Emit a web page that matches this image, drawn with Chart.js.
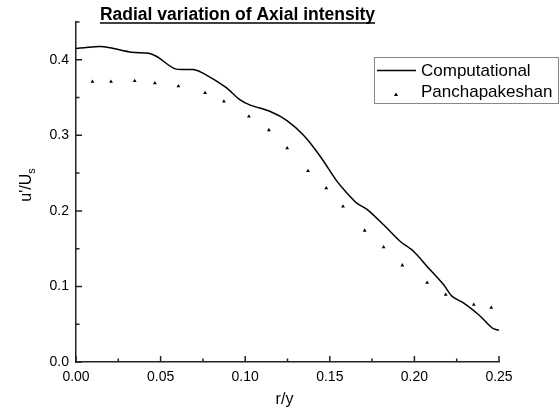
<!DOCTYPE html>
<html>
<head>
<meta charset="utf-8">
<script src="https://cdn.jsdelivr.net/npm/chart.js@4.4.1/dist/chart.umd.min.js"></script>
<style>
  html, body { margin: 0; padding: 0; background: #fff; }
</style>
</head>
<body>
<canvas id="chart" width="559" height="414"></canvas>
<script>
// Computational (solid line)
var compR = [0, 0.005, 0.014, 0.020, 0.033, 0.043, 0.048, 0.0586, 0.0694, 0.0753, 0.0882, 0.097, 0.103,
             0.1148, 0.1247, 0.1345, 0.1444, 0.1543, 0.1602, 0.1661, 0.172, 0.1818, 0.1917, 0.1996,
             0.2075, 0.2173, 0.2223, 0.2292, 0.238, 0.246, 0.25];
var compU = [0.415, 0.416, 0.4175, 0.416, 0.410, 0.4087, 0.404, 0.388, 0.387, 0.382, 0.364, 0.347, 0.340,
             0.3315, 0.3196, 0.300, 0.272, 0.239, 0.2235, 0.210, 0.202, 0.1816, 0.1595, 0.1463,
             0.1265, 0.1022, 0.0868, 0.078, 0.0626, 0.045, 0.042];

// Panchapakeshan (triangles)
var expR = [0.0097, 0.0207, 0.0347, 0.0466, 0.0605, 0.0763, 0.0874, 0.1022, 0.114, 0.1248,
            0.1371, 0.1479, 0.1578, 0.1706, 0.1818, 0.1929, 0.2075, 0.2185, 0.2351, 0.2454];
var expU = [0.371, 0.371, 0.372, 0.369, 0.365, 0.356, 0.345, 0.325, 0.307, 0.283,
            0.253, 0.230, 0.206, 0.174, 0.152, 0.128, 0.105, 0.089, 0.076, 0.072];

var xTicks = [0, 0.05, 0.10, 0.15, 0.20, 0.25];
var yTicks = [0, 0.1, 0.2, 0.3, 0.4];

function toPoints(xs, ys) {
    return xs.map(function (x, i) { return { x: x, y: ys[i] }; });
}

// ticks inward, minor ticks, titles, legend box
var decor = {
    id: 'decor',
    afterDraw: function (chart) {
        var ctx = chart.ctx;
        var xs = chart.scales.x, ys = chart.scales.y;
        var a = chart.chartArea;
        ctx.save();
        ctx.strokeStyle = '#222';
        ctx.lineWidth = 1.5;
        ctx.beginPath();
        xTicks.forEach(function (v, i) {
            var px = xs.getPixelForValue(v);
            ctx.moveTo(px, a.bottom); ctx.lineTo(px, a.bottom - 6);
            if (i < xTicks.length - 1) {
                var pm = xs.getPixelForValue((v + xTicks[i + 1]) / 2);
                ctx.moveTo(pm, a.bottom); ctx.lineTo(pm, a.bottom - 3.5);
            }
        });
        yTicks.forEach(function (v, i) {
            var py = ys.getPixelForValue(v);
            ctx.moveTo(a.left, py); ctx.lineTo(a.left + 6, py);
            var pm = ys.getPixelForValue(v + 0.05);
            ctx.moveTo(a.left, pm); ctx.lineTo(a.left + 3.5, pm);
        });
        ctx.stroke();

        // chart title, underlined
        ctx.fillStyle = '#000';
        ctx.font = 'bold 17.5px "Liberation Sans", Arial, sans-serif';
        ctx.textAlign = 'left';
        ctx.textBaseline = 'alphabetic';
        var title = 'Radial variation of Axial intensity';
        var tw = ctx.measureText(title).width;
        var tx = 237.5 - tw / 2;
        ctx.fillText(title, tx, 20);
        ctx.strokeStyle = '#000';
        ctx.lineWidth = 1.5;
        ctx.beginPath();
        ctx.moveTo(tx, 23); ctx.lineTo(tx + tw, 23);
        ctx.stroke();

        // x axis title
        ctx.font = '16px "Liberation Sans", Arial, sans-serif';
        ctx.textAlign = 'center';
        ctx.textBaseline = 'middle';
        ctx.fillText('r/y', (a.left + a.right) / 2 - 3, 400);

        // y axis title u'/Us
        ctx.save();
        ctx.translate(25, 185);
        ctx.rotate(-Math.PI / 2);
        ctx.textAlign = 'left';
        ctx.textBaseline = 'alphabetic';
        ctx.font = '16px "Liberation Sans", Arial, sans-serif';
        var w1 = ctx.measureText("u'/U").width;
        ctx.font = '11px "Liberation Sans", Arial, sans-serif';
        var w2 = ctx.measureText('s').width;
        var sx = -(w1 + w2) / 2;
        ctx.font = '16px "Liberation Sans", Arial, sans-serif';
        ctx.fillText("u'/U", sx, 6);
        ctx.font = '11px "Liberation Sans", Arial, sans-serif';
        ctx.fillText('s', sx + w1, 10);
        ctx.restore();

        // legend
        var ds = chart.data.datasets;
        ctx.strokeStyle = '#888';
        ctx.lineWidth = 1;
        ctx.strokeRect(374.5, 57.5, 184, 46);
        ctx.strokeStyle = '#000';
        ctx.lineWidth = 1.5;
        ctx.beginPath();
        ctx.moveTo(377, 70.5); ctx.lineTo(416, 70.5);
        ctx.stroke();
        ctx.beginPath();
        ctx.moveTo(396, 92.5); ctx.lineTo(398, 96); ctx.lineTo(394, 96);
        ctx.closePath();
        ctx.fillStyle = '#000';
        ctx.fill();
        ctx.font = '17px "Liberation Sans", Arial, sans-serif';
        ctx.textAlign = 'left';
        ctx.textBaseline = 'middle';
        ctx.fillText(ds[0].label, 421, 71);
        ctx.fillText(ds[1].label, 421, 92);
        ctx.restore();
    }
};

var tickFont = { family: '"Liberation Sans", Arial, sans-serif', size: 14 };

new Chart(document.getElementById('chart').getContext('2d'), {
    type: 'scatter',
    data: {
        datasets: [{
            label: 'Computational',
            data: toPoints(compR, compU),
            showLine: true,
            borderColor: '#000',
            borderWidth: 1.5,
            pointRadius: 0,
            tension: 0.3,
            fill: false
        }, {
            label: 'Panchapakeshan',
            data: toPoints(expR, expU),
            showLine: false,
            pointStyle: 'triangle',
            pointRadius: 2.2,
            backgroundColor: '#000',
            borderColor: '#000',
            borderWidth: 0
        }]
    },
    options: {
        responsive: false,
        animation: false,
        layout: { padding: { top: 22, right: 60, bottom: 0, left: 0 } },
        plugins: {
            legend: { display: false },
            tooltip: { enabled: false }
        },
        scales: {
            x: {
                type: 'linear',
                min: 0,
                max: 0.25,
                afterFit: function (s) { s.height = 52; },
                afterBuildTicks: function (s) { s.ticks = xTicks.map(function (v) { return { value: v }; }); },
                grid: { display: false, drawTicks: false },
                border: { display: true, color: '#222', width: 1.5 },
                ticks: {
                    color: '#000',
                    font: tickFont,
                    padding: 7,
                    maxRotation: 0,
                    callback: function (v) { return v.toFixed(2); }
                }
            },
            y: {
                type: 'linear',
                min: 0,
                max: 0.45,
                afterFit: function (s) { s.width = 76; },
                afterBuildTicks: function (s) { s.ticks = yTicks.map(function (v) { return { value: v }; }); },
                grid: { display: false, drawTicks: false },
                border: { display: true, color: '#222', width: 1.5 },
                ticks: {
                    color: '#000',
                    font: tickFont,
                    padding: 7,
                    callback: function (v) { return v.toFixed(1); }
                }
            }
        }
    },
    plugins: [decor]
});
</script>
</body>
</html>
